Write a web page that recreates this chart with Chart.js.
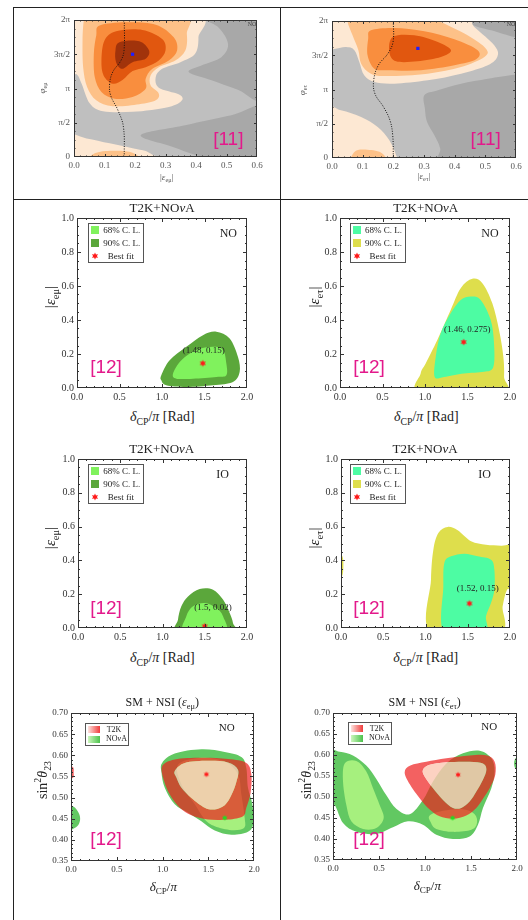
<!DOCTYPE html>
<html>
<head>
<meta charset="utf-8">
<script src="https://cdn.jsdelivr.net/npm/chart.js@4.4.1/dist/chart.umd.min.js"></script>
<style>
  body { margin:0; width:528px; height:920px; position:relative; overflow:hidden; background:#fff;
         font-family:"Liberation Serif","DejaVu Serif",serif; color:#222; }
  canvas { position:absolute; }
  .t { position:absolute; white-space:nowrap; transform:translate(-50%,-50%); line-height:1; }
  .tl { position:absolute; white-space:nowrap; transform:translate(0,-50%); line-height:1; }
  .ln { position:absolute; background:#222; }
  .leg { position:absolute; border:1px solid #555; background:#fff; box-sizing:border-box; }
  .sw { position:absolute; }
  .ref { color:#e3198b; font-family:"Liberation Sans",Arial,sans-serif; font-size:19px; }
  sub, sup { font-size:0.7em; line-height:0; }
</style>
</head>
<body>
<div class="ln" style="left:13px;top:7px;width:515px;height:1px"></div>
<div class="ln" style="left:13px;top:199px;width:515px;height:1px"></div>
<div class="ln" style="left:13px;top:7px;width:1px;height:913px"></div>
<div class="ln" style="left:280px;top:7px;width:1px;height:913px"></div>
<script>
Chart.defaults.font.family = '"Liberation Serif", serif';

// ---------- top row: phi (in units of pi) vs |eps| ----------
const phiTicks = ['0', 'π/2', 'π', '3π/2', '2π'];

const p1DarkGrayTop = [[0.408,2.09],[0.473,1.894],[0.505,1.651],[0.483,1.458],[0.418,1.337],[0.376,1.240],[0.451,1.119],[0.537,0.983],[0.624,0.877],[0.624,2.09]];
const p1DarkGrayLow = [[0.219,0.320],[0.365,0.465],[0.516,0.610],[0.624,0.707],[0.624,-0.14],[0.440,-0.02],[0.322,0.150]];
const p1Cream = [[-0.024,2.087],[0.397,2.087],[0.408,1.748],[0.397,1.506],[0.349,1.385],[0.289,1.288],[0.268,1.167],[0.278,1.012],[0.343,0.915],[0.354,0.828],[0.311,0.731],[0.192,0.659],[0.095,0.668],[0.052,0.780],[0.025,1.070],[0.009,1.206],[-0.024,1.240]];
const p1CreamLow = [[-0.024,0.320],[0.041,0.271],[0.117,0.199],[0.192,0.126],[0.246,0.063],[0.268,-0.092],[-0.024,-0.092]];
const p1LightOrange = [[0.041,2.087],[0.354,2.087],[0.370,1.797],[0.365,1.555],[0.332,1.409],[0.278,1.312],[0.251,1.191],[0.251,1.046],[0.278,0.925],[0.268,0.828],[0.214,0.770],[0.127,0.741],[0.073,0.828],[0.043,1.022],[0.030,1.312],[0.028,1.700],[0.032,1.990]];
const p1LightOrangeLow = [[0.052,-0.092],[0.068,0.053],[0.127,0.092],[0.192,0.063],[0.219,-0.092]];
const p1Orange = [[0.084,1.918],[0.170,1.966],[0.268,1.932],[0.327,1.748],[0.338,1.555],[0.311,1.409],[0.257,1.288],[0.235,1.143],[0.235,0.998],[0.192,0.877],[0.133,0.852],[0.090,0.949],[0.068,1.167],[0.065,1.506],[0.073,1.773]];
const p1DarkOrange = [[0.138,1.836],[0.224,1.855],[0.289,1.724],[0.300,1.555],[0.278,1.409],[0.235,1.312],[0.192,1.254],[0.160,1.128],[0.127,1.070],[0.097,1.191],[0.090,1.409],[0.100,1.700]];
const p1Brown = [[0.149,1.676],[0.214,1.690],[0.246,1.555],[0.235,1.434],[0.192,1.385],[0.158,1.288],[0.138,1.385],[0.136,1.555]];
const p1Curve = [[0.165,2.0],[0.164,1.555],[0.154,1.409],[0.127,1.240],[0.117,1.070],[0.120,0.901],[0.144,0.683],[0.162,0.441],[0.165,0]];
const p1Best = [[0.192,1.5]];

const p2DarkGrayTop = [[0.410,2.2],[0.453,1.961],[0.519,1.864],[0.596,1.766],[0.65,1.75],[0.65,2.2]];
const p2DarkGrayLow = [[0.301,0.915],[0.345,0.988],[0.421,1.085],[0.508,1.158],[0.596,1.217],[0.65,1.22],[0.65,-0.16],[0.361,-0.16],[0.353,0.136],[0.334,0.331],[0.310,0.526],[0.303,0.720]];
const p2Cream = [[-0.036,2.18],[0.399,2.18],[0.464,1.912],[0.529,1.645],[0.540,1.489],[0.508,1.353],[0.421,1.231],[0.312,1.134],[0.203,1.085],[0.138,1.109],[0.105,1.207],[0.089,1.401],[0.073,1.572],[0.046,1.620],[-0.036,1.620]];
const p2CreamLow = [[-0.036,0.745],[0.029,0.696],[0.095,0.599],[0.149,0.453],[0.187,0.258],[0.209,0.039],[0.214,-0.156],[-0.036,-0.156]];
const p2LightOrange = [[0.057,2.083],[0.312,2.083],[0.355,1.985],[0.442,1.791],[0.502,1.596],[0.497,1.474],[0.421,1.328],[0.312,1.231],[0.182,1.197],[0.127,1.231],[0.095,1.377],[0.086,1.572],[0.067,1.791],[0.051,1.985]];
const p2LightOrangeLow = [[0.062,-0.156],[0.073,0.088],[0.116,0.122],[0.165,0.063],[0.182,-0.156]];
const p2Orange = [[0.127,1.864],[0.203,1.898],[0.301,1.849],[0.399,1.732],[0.475,1.572],[0.470,1.440],[0.399,1.353],[0.290,1.280],[0.182,1.280],[0.138,1.304],[0.116,1.499],[0.118,1.742]];
const p2DarkOrange = [[0.198,1.766],[0.268,1.791],[0.345,1.693],[0.388,1.572],[0.355,1.474],[0.279,1.411],[0.209,1.411],[0.187,1.547]];
const p2Curve = [[0.200,2.0],[0.199,1.693],[0.182,1.523],[0.151,1.353],[0.136,1.134],[0.140,0.939],[0.168,0.745],[0.189,0.550],[0.198,0.331],[0.200,0]];
const p2Best = [[0.28,1.6]];

// ---------- rows 2-3: |eps| vs delta_CP/pi ----------
const p3Outer = [[0.992,0.075],[1.090,0.163],[1.286,0.242],[1.482,0.311],[1.639,0.331],[1.796,0.291],[1.894,0.183],[1.914,0.095],[1.835,0.035],[1.600,0.016],[1.286,0.006],[1.051,0.016],[0.992,0.045]];
const p3Inner = [[1.130,0.085],[1.228,0.163],[1.404,0.223],[1.600,0.242],[1.718,0.223],[1.757,0.144],[1.757,0.075],[1.639,0.065],[1.365,0.055],[1.169,0.055]];
const p3Best = [[1.48,0.145]];

const p4Outer = [[0.949,-0.03],[0.949,0.085],[1.008,0.144],[1.145,0.282],[1.302,0.459],[1.420,0.587],[1.557,0.642],[1.675,0.616],[1.792,0.498],[1.871,0.341],[1.922,0.183],[1.930,0.065],[1.910,-0.03]];
const p4Inner = [[1.114,0.065],[1.126,0.183],[1.184,0.321],[1.302,0.439],[1.420,0.518],[1.537,0.538],[1.655,0.518],[1.773,0.400],[1.812,0.262],[1.804,0.124],[1.694,0.095],[1.459,0.085],[1.224,0.065]];
const p4Best = [[1.455,0.27]];

const p5Outer = [[1.183,-0.03],[1.183,0.049],[1.223,0.128],[1.302,0.187],[1.440,0.231],[1.598,0.227],[1.716,0.168],[1.795,0.089],[1.834,0.030],[1.834,-0.03]];
const p5Inner = [[1.262,-0.03],[1.282,0.069],[1.361,0.128],[1.499,0.148],[1.637,0.118],[1.716,0.069],[1.736,-0.03]];
const p5Best = [[1.5,0.01]];

const p6Outer = [[1.065,-0.03],[1.065,0.286],[1.093,0.463],[1.152,0.562],[1.262,0.598],[1.381,0.578],[1.539,0.513],[1.716,0.493],[1.894,0.487],[2.04,0.473],[2.04,0.247],[1.965,0.227],[1.913,0.128],[1.874,-0.03]];
const p6Edge = [[-0.059,0.463],[0.016,0.424],[0.028,0.365],[0.012,0.306],[-0.059,0.296]];
const p6Inner = [[1.223,-0.03],[1.211,0.247],[1.223,0.385],[1.302,0.424],[1.460,0.440],[1.617,0.424],[1.775,0.404],[1.815,0.345],[1.815,0.227],[1.775,0.148],[1.716,0.069],[1.696,-0.03]];
const p6Best = [[1.52,0.145]];

// ---------- bottom row: sin^2 theta23 vs delta_CP/pi ----------
const p7NovaOuter = [[0.996,0.582],[1.134,0.604],[1.425,0.614],[1.680,0.608],[1.862,0.596],[1.916,0.570],[1.934,0.523],[1.982,0.484],[1.993,0.440],[1.934,0.419],[1.753,0.412],[1.571,0.422],[1.425,0.444],[1.280,0.464],[1.134,0.484],[1.025,0.523],[0.989,0.559]];
const p7NovaInner = [[1.171,0.578],[1.425,0.594],[1.680,0.586],[1.825,0.555],[1.862,0.507],[1.898,0.452],[1.891,0.428],[1.753,0.423],[1.571,0.432],[1.462,0.448],[1.353,0.484],[1.207,0.531]];
const p7NovaEdge = [[-0.05,0.48],[0.03,0.478],[0.08,0.465],[0.1,0.45],[0.08,0.435],[0.03,0.427],[-0.05,0.425]];
const p7T2kOuter = [[0.996,0.574],[1.134,0.590],[1.425,0.594],[1.716,0.591],[1.916,0.582],[1.971,0.555],[1.963,0.511],[1.916,0.476],[1.880,0.456],[1.716,0.448],[1.498,0.448],[1.316,0.458],[1.189,0.476],[1.080,0.507],[1.018,0.539]];
const p7T2kInner = [[1.134,0.563],[1.244,0.582],[1.498,0.587],[1.716,0.583],[1.825,0.566],[1.807,0.537],[1.753,0.506],[1.680,0.482],[1.571,0.472],[1.462,0.476],[1.316,0.499],[1.207,0.523],[1.153,0.547]];
const p7T2kEdge = [[-0.05,0.578],[0.022,0.572],[0.029,0.559],[0.022,0.547],[-0.05,0.545]];
const p7BestT2k = [[1.48,0.555]];
const p7BestNova = [[1.68,0.452]];

const p8NovaOuter = [[-0.072,0.604],[0.072,0.608],[0.217,0.599],[0.362,0.575],[0.471,0.543],[0.580,0.504],[0.688,0.472],[0.833,0.459],[0.978,0.493],[1.087,0.537],[1.232,0.580],[1.413,0.604],[1.594,0.610],[1.721,0.592],[1.757,0.561],[1.721,0.521],[1.630,0.474],[1.576,0.434],[1.485,0.406],[1.304,0.400],[1.123,0.410],[0.978,0.434],[0.815,0.442],[0.652,0.428],[0.471,0.412],[0.254,0.417],[0.109,0.438],[0.018,0.481],[-0.072,0.489]];
const p8NovaInnerL = [[0.127,0.580],[0.254,0.586],[0.362,0.561],[0.435,0.521],[0.507,0.481],[0.551,0.450],[0.471,0.426],[0.326,0.424],[0.199,0.442],[0.145,0.481],[0.109,0.537]];
const p8NovaInnerR = [[1.051,0.456],[1.196,0.467],[1.413,0.471],[1.540,0.459],[1.565,0.438],[1.504,0.422],[1.304,0.417],[1.123,0.424],[1.062,0.440]];
const p8NovaEdge = [[2.05,0.598],[1.99,0.594],[1.968,0.58],[1.99,0.566],[2.05,0.562]];
const p8T2kOuter = [[0.779,0.559],[0.841,0.575],[1.014,0.584],[1.232,0.592],[1.485,0.599],[1.674,0.599],[1.757,0.584],[1.764,0.553],[1.703,0.521],[1.630,0.496],[1.558,0.474],[1.449,0.456],[1.304,0.448],[1.159,0.454],[1.051,0.470],[0.942,0.497],[0.833,0.531]];
const p8T2kInner = [[0.978,0.565],[1.051,0.577],[1.232,0.583],[1.485,0.584],[1.630,0.580],[1.667,0.565],[1.630,0.541],[1.558,0.513],[1.485,0.489],[1.395,0.474],[1.304,0.474],[1.196,0.493],[1.087,0.521],[0.996,0.549]];
const p8BestT2k = [[1.36,0.553]];
const p8BestNova = [[1.30,0.450]];

// colours
const gLight = '#bfbfbf', gDark = '#a8a8a8', cream = '#fde8d3', lOrange = '#fdc188',
      orange = '#f98e3e', dOrange = '#e1570f', brown = '#a1330b';
const green90 = '#5ba73b', green68 = '#80f25d', yellow90 = '#dede4c', cyan68 = '#4dfca3';
const nova90 = '#62c862', nova68 = '#a6f07e', t2k90 = 'rgba(238,30,30,0.7)', t2k68 = 'rgba(252,200,180,0.82)';

function starImg(color, r) {
  const c = document.createElement('canvas');
  c.width = c.height = Math.ceil(2 * r + 2);
  const g = c.getContext('2d');
  g.fillStyle = color;
  g.beginPath();
  for (let i = 0; i < 12; i++) {
    const a = -Math.PI / 2 + i * Math.PI / 6, rr = i % 2 ? r * 0.52 : r;
    g.lineTo(c.width / 2 + rr * Math.cos(a), c.height / 2 + rr * Math.sin(a));
  }
  g.closePath();
  g.fill();
  return c;
}

// closed smooth curve through the points
function smooth(ctx, p) {
  const n = p.length;
  ctx.moveTo(p[0][0], p[0][1]);
  for (let i = 0; i < n; i++) {
    const a = p[(i - 1 + n) % n], b = p[i], c = p[(i + 1) % n], d = p[(i + 2) % n];
    ctx.bezierCurveTo(b[0] + (c[0] - a[0]) / 6, b[1] + (c[1] - a[1]) / 6,
                      c[0] - (d[0] - b[0]) / 6, c[1] - (d[1] - b[1]) / 6, c[0], c[1]);
  }
  ctx.closePath();
}

function panel(box, cfg) {
  const AX = 40, PT = 10, PR = 12, AH = 20;
  const cv = document.createElement('canvas');
  cv.width = box.r - box.l + AX + PR;
  cv.height = box.b - box.t + PT + AH;
  cv.style.left = (box.l - AX) + 'px';
  cv.style.top = (box.t - PT) + 'px';
  document.body.appendChild(cv);

  const plug = {
    id: 'regions',
    beforeDatasetsDraw(chart) {
      const {ctx, chartArea: a, scales: {x, y}} = chart;
      const px = pts => pts.map(p => [x.getPixelForValue(p[0]), y.getPixelForValue(p[1])]);
      ctx.save();
      ctx.beginPath();
      ctx.rect(a.left, a.top, a.width, a.height);
      ctx.clip();
      if (cfg.bg) { ctx.fillStyle = cfg.bg; ctx.fillRect(a.left, a.top, a.width, a.height); }
      cfg.regions.forEach(r => {
        ctx.beginPath();
        smooth(ctx, px(r.pts));
        if (r.hole) smooth(ctx, px(r.hole));
        ctx.fillStyle = r.color;
        ctx.fill(r.hole ? 'evenodd' : 'nonzero');
      });
      ctx.restore();
    },
    afterDatasetsDraw(chart) {
      const {ctx, scales: {x, y}} = chart;
      ctx.save();
      (cfg.notes || []).forEach(n => {
        ctx.font = '9px "Liberation Serif"';
        ctx.fillStyle = '#222';
        ctx.textAlign = 'center';
        ctx.textBaseline = 'middle';
        ctx.fillText(n.text, x.getPixelForValue(n.at[0]), y.getPixelForValue(n.at[1]));
      });
      ctx.restore();
    },
    afterDraw(chart) {
      const {ctx, chartArea: a, scales: {x, y}} = chart;
      const m = cfg.minor;
      ctx.save();
      ctx.strokeStyle = '#333';
      ctx.lineWidth = 1;
      ctx.strokeRect(a.left + 0.5, a.top + 0.5, a.width - 1, a.height - 1);
      ctx.beginPath();
      const nx = Math.round((x.max - x.min) / m.x[0]);
      for (let k = 1; k < nx; k++) {
        const L = k % m.x[1] === 0 ? m.len : m.len / 2;
        const X = Math.round(x.getPixelForValue(x.min + k * m.x[0])) + 0.5;
        ctx.moveTo(X, a.bottom); ctx.lineTo(X, a.bottom - L);
        ctx.moveTo(X, a.top); ctx.lineTo(X, a.top + L);
      }
      const ny = Math.round((y.max - y.min) / m.y[0]);
      for (let k = 1; k < ny; k++) {
        const L = k % m.y[1] === 0 ? m.len : m.len / 2;
        const Y = Math.round(y.getPixelForValue(y.min + k * m.y[0])) + 0.5;
        ctx.moveTo(a.left, Y); ctx.lineTo(a.left + L, Y);
        ctx.moveTo(a.right, Y); ctx.lineTo(a.right - L, Y);
      }
      ctx.stroke();
      ctx.restore();
    }
  };

  new Chart(cv, {
    type: 'scatter',
    data: { datasets: cfg.datasets },
    options: {
      responsive: false, animation: false, devicePixelRatio: 1, events: [],
      layout: { padding: { top: PT, right: PR, left: 0, bottom: 0 } },
      plugins: { legend: { display: false }, tooltip: { enabled: false } },
      scales: {
        x: {
          type: 'linear', min: cfg.x.min, max: cfg.x.max,
          grid: { display: false, drawTicks: false }, border: { display: false },
          ticks: { stepSize: cfg.x.step, autoSkip: false, maxRotation: 0, padding: cfg.xpad,
                   color: cfg.color, font: { size: cfg.font }, callback: cfg.x.cb },
          afterFit: s => { s.height = AH; }
        },
        y: {
          type: 'linear', min: cfg.y.min, max: cfg.y.max,
          grid: { display: false, drawTicks: false }, border: { display: false },
          ticks: { stepSize: cfg.y.step, autoSkip: false, padding: cfg.ypad,
                   color: cfg.color, font: { size: cfg.font }, callback: cfg.y.cb },
          afterFit: s => { s.width = AX; }
        }
      }
    },
    plugins: [plug]
  });
}

const starSet = (pts, color, r) => ({ data: pts, pointStyle: starImg(color, r), pointRadius: r, borderWidth: 0 });
const dotSet = pts => ({ data: pts, pointStyle: 'rect', pointRadius: 2.3, backgroundColor: '#1f1fff', borderWidth: 0 });
const curveSet = pts => ({ data: pts, showLine: true, borderColor: '#111', borderWidth: 1, borderDash: [1, 1.5],
                           pointRadius: 0, tension: 0.4 });

const f1 = v => v.toFixed(1), f2 = v => v.toFixed(2);
const axTop = { x: { min: 0, max: 0.6, step: 0.1, cb: f1 }, y: { min: 0, max: 2, step: 0.5, cb: v => phiTicks[Math.round(v * 2)] },
                font: 9, color: '#555', xpad: 3, ypad: 4, minor: { x: [0.02, 5], y: [0.125, 4], len: 3 } };
const axMid = { x: { min: 0, max: 2, step: 0.5, cb: f1 }, y: { min: 0, max: 1, step: 0.2, cb: f1 },
                font: 10, color: '#333', xpad: 3, ypad: 3, minor: { x: [0.1, 5], y: [0.05, 4], len: 4 } };
const axLow = { x: { min: 0, max: 2, step: 0.5, cb: f1 }, y: { min: 0.35, max: 0.7, step: 0.05, cb: f2 },
                font: 9, color: '#333', xpad: 3, ypad: 3, minor: { x: [0.1, 5], y: [0.01, 5], len: 4 } };

panel({ l: 74, t: 20, r: 257, b: 157 }, Object.assign({}, axTop, {
  bg: gLight,
  regions: [
    { pts: p1DarkGrayTop, color: gDark }, { pts: p1DarkGrayLow, color: gDark },
    { pts: p1Cream, color: cream }, { pts: p1CreamLow, color: cream },
    { pts: p1LightOrange, color: lOrange }, { pts: p1LightOrangeLow, color: lOrange },
    { pts: p1Orange, color: orange }, { pts: p1DarkOrange, color: dOrange }, { pts: p1Brown, color: brown }
  ],
  datasets: [dotSet(p1Best), curveSet(p1Curve)]
}));

panel({ l: 332, t: 21, r: 516, b: 158 }, Object.assign({}, axTop, {
  bg: gLight,
  regions: [
    { pts: p2DarkGrayTop, color: gDark }, { pts: p2DarkGrayLow, color: gDark },
    { pts: p2Cream, color: cream }, { pts: p2CreamLow, color: cream },
    { pts: p2LightOrange, color: lOrange }, { pts: p2LightOrangeLow, color: lOrange },
    { pts: p2Orange, color: orange }, { pts: p2DarkOrange, color: dOrange }
  ],
  datasets: [dotSet(p2Best), curveSet(p2Curve)]
}));

panel({ l: 77, t: 218, r: 247, b: 388 }, Object.assign({}, axMid, {
  regions: [{ pts: p3Outer, color: green90 }, { pts: p3Inner, color: green68 }],
  datasets: [starSet(p3Best, '#ff1a1a', 3.6)],
  notes: [{ text: '(1.48, 0.15)', at: [1.49, 0.222] }]
}));

panel({ l: 340, t: 218, r: 510, b: 388 }, Object.assign({}, axMid, {
  regions: [{ pts: p4Outer, color: yellow90 }, { pts: p4Inner, color: cyan68 }],
  datasets: [starSet(p4Best, '#ff1a1a', 3.6)],
  notes: [{ text: '(1.46, 0.275)', at: [1.498, 0.341] }]
}));

panel({ l: 78, t: 459, r: 247, b: 628 }, Object.assign({}, axMid, {
  regions: [{ pts: p5Outer, color: green90 }, { pts: p5Inner, color: green68 }],
  datasets: [starSet(p5Best, '#ff1a1a', 3.6)],
  notes: [{ text: '(1.5, 0.02)', at: [1.598, 0.122] }]
}));

panel({ l: 341, t: 459, r: 510, b: 628 }, Object.assign({}, axMid, {
  regions: [{ pts: p6Outer, color: yellow90 }, { pts: p6Edge, color: yellow90 }, { pts: p6Inner, color: cyan68 }],
  datasets: [starSet(p6Best, '#ff1a1a', 3.6)],
  notes: [{ text: '(1.52, 0.15)', at: [1.617, 0.231] }]
}));

panel({ l: 71, t: 713, r: 254, b: 861 }, Object.assign({}, axLow, {
  regions: [
    { pts: p7NovaOuter, color: nova90 }, { pts: p7NovaEdge, color: nova90 }, { pts: p7NovaInner, color: nova68 },
    { pts: p7T2kOuter, hole: p7T2kInner, color: t2k90 }, { pts: p7T2kEdge, color: t2k90 },
    { pts: p7T2kInner, color: t2k68 }
  ],
  datasets: [starSet(p7BestT2k, '#ff1a1a', 3), starSet(p7BestNova, '#22dd22', 3)]
}));

panel({ l: 333, t: 713, r: 517, b: 860 }, Object.assign({}, axLow, {
  regions: [
    { pts: p8NovaOuter, color: nova90 }, { pts: p8NovaEdge, color: nova90 },
    { pts: p8NovaInnerL, color: nova68 }, { pts: p8NovaInnerR, color: nova68 },
    { pts: p8T2kOuter, hole: p8T2kInner, color: t2k90 }, { pts: p8T2kInner, color: t2k68 }
  ],
  datasets: [starSet(p8BestT2k, '#ff1a1a', 3), starSet(p8BestNova, '#22dd22', 3)]
}));

// ---------- text ----------
function txt(x, y, html, css, cls) {
  const d = document.createElement('div');
  d.className = cls || 't';
  d.style.left = x + 'px';
  d.style.top = y + 'px';
  d.style.cssText += css || '';
  d.innerHTML = html;
  document.body.appendChild(d);
  return d;
}
const rot = 'transform:translate(-50%,-50%) rotate(-90deg);';

// top row
txt(41.7, 88, '<i>φ</i><sub>eμ</sub>', rot + 'font-size:9px;color:#555');
txt(166.7, 177, '|<i>ε</i><sub>eμ</sub>|', 'font-size:9px;color:#555');
txt(228.3, 138.3, '[11]', '', 't ref');
txt(252, 23.5, 'NO', 'font-size:6px;color:#444');
txt(302, 90, '<i>φ</i><sub>eτ</sub>', rot + 'font-size:9px;color:#555');
txt(424, 176, '|<i>ε</i><sub>eτ</sub>|', 'font-size:9px;color:#555');
txt(485.7, 138.3, '[11]', '', 't ref');
txt(511, 24, 'NO', 'font-size:6px;color:#444');

// middle rows
const xlabRad = '<i>δ</i><sub>CP</sub>/<i>π</i> [Rad]';
[[162, 207.3, 162.3, 416.7, 50, 297, 'eμ', 106, 365.7, 228.3, 233.3, 'NO'],
 [425.7, 207.3, 426.3, 416.7, 314, 297, 'eτ', 369, 365.7, 490, 233.3, 'NO'],
 [161.7, 448.3, 162.3, 658.3, 50, 538, 'eμ', 106, 606.7, 222.7, 474.3, 'IO'],
 [425, 448.3, 425.7, 658.3, 314, 538, 'eτ', 369, 606.7, 484.7, 474.3, 'IO']].forEach(r => {
  txt(r[0], r[1], 'T2K+NO<i>ν</i>A', 'font-size:13px');
  txt(r[2], r[3], xlabRad, 'font-size:14px');
  txt(r[4], r[5], '|<i>ε</i><sub>' + r[6] + '</sub>|', rot + 'font-size:15px');
  txt(r[7], r[8], '[12]', '', 't ref');
  txt(r[9], r[10], r[11], 'font-size:12px');
});

// bottom row
txt(162.3, 702.3, 'SM + NSI (<i>ε</i><sub>eμ</sub>)', 'font-size:12px');
txt(424.7, 702.3, 'SM + NSI (<i>ε</i><sub>eτ</sub>)', 'font-size:12px');
txt(163.3, 886, '<i>δ</i><sub>CP</sub>/<i>π</i>', 'font-size:13px');
txt(427.3, 885, '<i>δ</i><sub>CP</sub>/<i>π</i>', 'font-size:13px');
txt(43, 780, 'sin<sup>2</sup><i>θ</i><sub>23</sub>', rot + 'font-size:14px');
txt(307, 780, 'sin<sup>2</sup><i>θ</i><sub>23</sub>', rot + 'font-size:14px');
txt(106, 838.3, '[12]', '', 't ref');
txt(369, 838.3, '[12]', '', 't ref');
txt(226.7, 726.7, 'NO', 'font-size:11px');
txt(489.3, 726, 'NO', 'font-size:11px');

// legends
function box(x, y, w, h) {
  const d = document.createElement('div');
  d.className = 'leg';
  d.style.cssText = 'left:' + x + 'px;top:' + y + 'px;width:' + w + 'px;height:' + h + 'px';
  document.body.appendChild(d);
}
function swatch(x, y, w, h, bg) {
  const d = document.createElement('div');
  d.className = 'sw';
  d.style.cssText = 'left:' + x + 'px;top:' + y + 'px;width:' + w + 'px;height:' + h + 'px;background:' + bg;
  document.body.appendChild(d);
}
function legendCL(x, y, c68, c90) {
  box(x, y, 56, 40);
  swatch(x + 3, y + 3, 8, 8, c68);
  txt(x + 15, y + 7, '68% C. L.', 'font-size:9px', 'tl');
  swatch(x + 3, y + 16, 8, 8, c90);
  txt(x + 15, y + 20, '90% C. L.', 'font-size:9px', 'tl');
  const s = starImg('#ff1a1a', 3.6);
  s.style.left = (x + 7 - s.width / 2) + 'px';
  s.style.top = (y + 33 - s.height / 2) + 'px';
  document.body.appendChild(s);
  txt(x + 19.5, y + 33, 'Best fit', 'font-size:9px', 'tl');
}
function legendSM(x, y) {
  box(x, y, 44, 23.5);
  swatch(x + 3, y + 3, 12, 7, 'linear-gradient(to right,#fde3de,#f03c3c)');
  txt(x + 29, y + 7, 'T2K', 'font-size:8px');
  swatch(x + 3, y + 13, 12, 7, 'linear-gradient(to right,#cdf7bd,#4cc24c)');
  txt(x + 31.5, y + 16.5, 'NO<i>ν</i>A', 'font-size:8px');
}
legendCL(88.3, 223.3, green68, green90);
legendCL(350, 223.3, cyan68, yellow90);
legendCL(88.3, 464, green68, green90);
legendCL(350, 464, cyan68, yellow90);
legendSM(85, 722.7);
legendSM(348, 721.7);
</script>
</body>
</html>
